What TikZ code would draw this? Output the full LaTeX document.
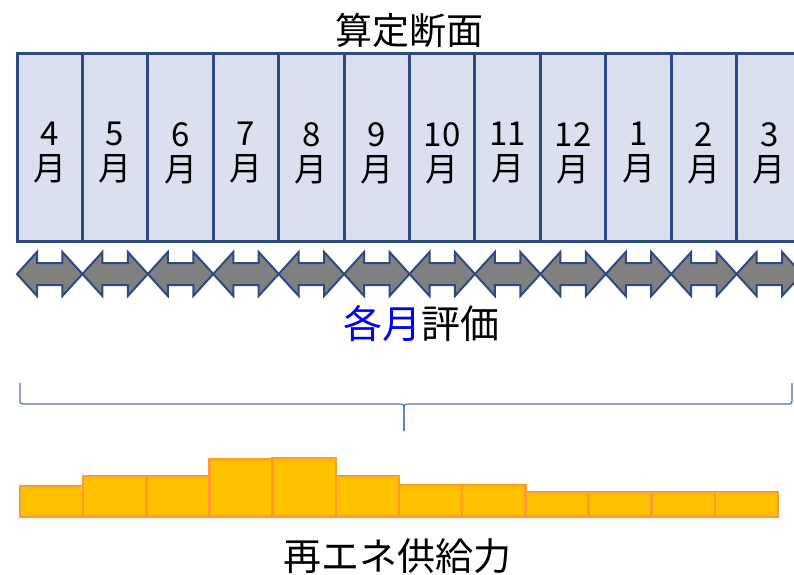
\documentclass[tikz,border=0pt]{standalone}
\usepackage{fontspec}
\setmainfont{Noto Sans CJK JP}
\definecolor{colfill}{HTML}{DAE0F0}
\definecolor{colline}{HTML}{2F4A80}
\definecolor{arrfill}{HTML}{808080}
\definecolor{barfill}{HTML}{FFC000}
\definecolor{barline}{HTML}{FF9A30}
\definecolor{braceline}{HTML}{4A72C0}
\tikzset{
  colbox/.style={draw=colline,fill=colfill,line width=3pt},
  dblarrow/.style={draw=colline,fill=arrfill,line width=2pt,line join=miter},
  barbox/.style={draw=barline,fill=barfill,line width=2.5pt},
  monthlabel/.style={align=center,font=\fontsize{33}{35}\selectfont,inner sep=0pt},
  bigtext/.style={font=\fontsize{37}{44}\selectfont,inner sep=0pt},
}
\begin{document}
\begin{tikzpicture}[x=1pt,y=-1pt]
\useasboundingbox (0,0) rectangle (794,574);
\clip (0,0) rectangle (794,574);
% title
\node[bigtext] (title) at (409,31) {算定断面};
% columns
\foreach \m [count=\k from 0] in {4,5,6,7,8,9,10,11,12,1,2,3}{
  \pgfmathsetmacro{\xa}{17+65.42*\k}
  \pgfmathsetmacro{\xb}{\xa+65.42}
  \pgfmathsetmacro{\xc}{\xa+32.71}
  \draw[colbox] (\xa,53) rectangle (\xb,241);
  \node[monthlabel] (m\k) at (\xc,153) {\m\\月};
  \draw[dblarrow] (\xa,274) -- (\xa+20,252) -- (\xa+20,263) -- (\xb-20,263) -- (\xb-20,252) -- (\xb,274) -- (\xb-20,296) -- (\xb-20,285) -- (\xa+20,285) -- (\xa+20,296) -- cycle;
}
% label
\node[bigtext,font=\fontsize{39}{46}\selectfont] (eval) at (421,324) {\textcolor{blue}{各月}評価};
% brace
\draw[braceline,line width=1.2pt] (20,383) -- (20,398) .. controls (20,404) .. (26,404) -- (398,404) .. controls (404,404) .. (404,412) -- (404,431);
\draw[braceline,line width=1.2pt] (404,431) -- (404,412) .. controls (404,404) .. (410,404) -- (786,404) .. controls (792,404) .. (792,398) -- (792,383);
% bars
\foreach \t [count=\k from 0] in {486,476,476,459,458,476,485,485,492,492,492,492}{
  \pgfmathsetmacro{\xa}{20+63.17*\k}
  \pgfmathsetmacro{\xb}{\xa+63.17}
  \draw[barbox] (\xa,\t) rectangle (\xb,517);
}
\node[bigtext,font=\fontsize{38}{45}\selectfont] (supply) at (397,556) {再エネ供給力};
\end{tikzpicture}
\end{document}
